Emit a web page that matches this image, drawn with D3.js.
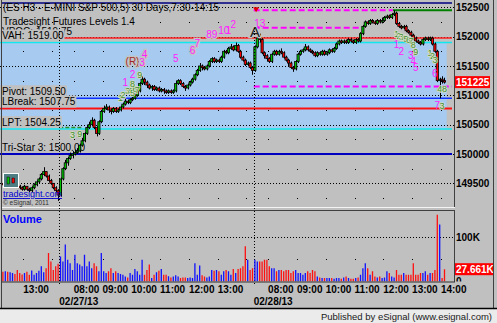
<!DOCTYPE html>
<html>
<head>
<meta charset="utf-8">
<script src="https://cdn.jsdelivr.net/npm/d3@7"></script>
<style>
  body { margin: 0; background: #c0c0c0; }
  svg { display: block; }
  text { font-family: Arial, "Liberation Sans", sans-serif; }
</style>
</head>
<body>
<svg id="chart" width="497" height="323"></svg>
<script>
// sessions on screen (5 minute bars)
var sessionDates = ["02/26/13", "02/27/13", "02/28/13"];
var sessionStarts = ["12:15", "07:30", "07:30"];
var sessionBars = [24, 81, 80];

var opens = [
1495.0,1494.75,1495.25,1495.0,1495.75,1496.0,1495.5,1494.5,1494.25,1494.0,1494.5,1494.0,1493.75,1494.25,1494.75,1495.25,1495.75,1496.5,1497.0,1496.25,1495.5,1495.0,1494.25,1493.75,
1493.0,1495.75,1497.5,1498.5,1499.25,1499.75,1500.0,1500.25,1500.5,1501.5,
1502.25,1503.5,1504.5,1505.0,1505.75,1504.5,1503.5,1505.5,1507.25,1507.75,
1508.0,1507.5,1507.25,1507.75,1507.25,1507.5,1508.0,1508.5,1509.0,1508.75,
1509.25,1509.5,1510.0,1510.75,1512.0,1512.75,1512.25,1511.75,1511.25,1511.5,
1511.0,1511.25,1510.75,1511.0,1510.75,1510.5,1510.75,1510.5,1510.75,1512.0,
1512.5,1512.0,1511.5,1511.25,1511.75,1512.25,1512.75,1513.5,1514.25,1515.0,
1514.75,1514.5,1515.0,1515.75,1516.25,1515.75,1516.0,1515.75,1516.5,1517.5,
1517.25,1518.0,1518.25,1517.75,1518.5,1517.5,1516.5,1516.0,1515.25,1515.5,
1514.75,
1514.25,1518.25,1519.75,1519.5,1517.25,1516.75,1516.25,1515.75,1517.0,1517.5,
1517.0,1517.5,1517.25,1516.5,1516.0,1515.5,1514.75,1514.5,1515.75,1517.0,
1517.5,1517.75,1518.25,1517.75,1517.5,1517.25,1516.75,1517.25,1517.0,1517.5,
1517.0,1517.25,1517.75,1517.5,1518.0,1518.75,1519.25,1519.0,1519.25,1519.0,
1519.5,1519.25,1519.0,1519.5,1519.25,1520.5,1521.75,1522.5,1522.25,1522.75,
1522.5,1522.25,1522.75,1522.5,1522.75,1523.25,1523.5,1523.25,1523.75,1524.0,
1522.25,1521.75,1521.5,1521.75,1521.0,1520.75,1520.25,1519.75,1519.25,1519.0,
1518.75,1519.5,1519.75,1519.5,1519.75,1518.75,1517.5,1512.5,1512.75,1512.5];

var highs = [
1495.25,1495.5,1495.5,1496.0,1496.5,1496.0,1495.5,1494.75,1494.5,1494.75,1494.5,1494.25,1494.5,1495.0,1495.5,1496.0,1496.75,1497.75,1497.0,1496.5,1495.75,1495.0,1494.5,1494.0,
1496.0,1497.75,1499.0,1499.5,1500.25,1500.5,1500.75,1501.0,1501.75,1502.75,
1503.75,1505.0,1505.5,1506.25,1506.0,1504.75,1505.75,1507.5,1508.25,1508.5,
1508.25,1507.75,1508.0,1508.0,1507.75,1508.25,1508.75,1509.5,1509.25,1509.5,
1509.75,1510.25,1511.0,1512.25,1513.25,1513.0,1512.5,1512.0,1511.75,1511.75,
1511.5,1511.5,1511.25,1511.25,1511.0,1511.0,1511.0,1511.0,1512.5,1512.75,
1512.75,1512.25,1511.75,1512.0,1512.5,1513.0,1513.75,1514.5,1515.5,1515.25,
1515.0,1515.25,1516.0,1516.5,1516.5,1516.25,1516.25,1516.75,1517.75,1517.75,
1518.25,1518.75,1518.5,1519.0,1518.75,1517.75,1516.75,1516.25,1515.75,1515.75,
1515.0,
1518.5,1520.0,1520.5,1519.75,1517.5,1517.0,1516.5,1517.25,1517.75,1517.75,
1517.75,1518.0,1517.5,1516.75,1516.25,1515.75,1515.0,1516.0,1517.25,1517.75,
1518.0,1518.75,1518.5,1518.0,1517.75,1517.5,1517.5,1517.5,1517.75,1517.75,
1517.5,1518.0,1518.0,1518.25,1519.0,1519.5,1519.5,1519.5,1519.5,1519.75,
1519.75,1519.5,1519.75,1519.75,1520.75,1522.0,1522.75,1522.75,1523.0,1523.0,
1522.75,1523.0,1523.0,1523.25,1523.5,1523.75,1523.75,1524.0,1524.5,1524.25,
1522.5,1522.0,1522.0,1522.0,1521.25,1521.0,1520.5,1520.0,1519.5,1519.25,
1519.75,1520.0,1520.0,1520.0,1520.0,1519.0,1517.75,1513.0,1513.25,1513.0];

var lows = [
1494.5,1494.5,1494.75,1494.75,1495.5,1495.25,1494.25,1494.0,1493.75,1493.75,1493.75,1493.5,1493.5,1494.0,1494.5,1495.0,1495.5,1496.25,1496.0,1495.25,1494.75,1494.0,1493.5,1492.0,
1492.75,1495.5,1497.25,1498.0,1499.0,1499.25,1499.75,1500.0,1500.25,1501.25,
1502.0,1503.25,1504.25,1504.75,1504.25,1503.0,1503.25,1505.25,1507.0,1507.5,
1507.0,1506.75,1507.0,1507.0,1507.0,1507.25,1507.75,1508.25,1508.5,1508.5,
1509.0,1509.25,1509.75,1510.5,1511.75,1511.75,1511.25,1511.0,1510.75,1510.75,
1510.75,1510.5,1510.5,1510.25,1510.25,1510.25,1510.25,1510.25,1510.5,1511.75,
1511.75,1511.25,1510.75,1511.0,1511.5,1512.0,1512.5,1513.25,1514.0,1514.25,
1514.25,1514.25,1514.75,1515.5,1515.5,1515.5,1515.5,1515.5,1516.25,1517.0,
1517.0,1517.75,1517.5,1517.5,1517.25,1516.25,1515.75,1515.0,1515.0,1514.5,
1513.5,
1514.0,1518.0,1519.0,1517.0,1516.25,1515.75,1515.5,1515.5,1516.75,1516.75,
1516.75,1517.0,1516.25,1515.75,1515.0,1514.5,1514.0,1514.25,1515.5,1516.75,
1517.25,1517.5,1517.5,1517.25,1517.0,1516.5,1516.5,1516.75,1516.75,1516.75,
1516.75,1517.0,1517.25,1517.25,1517.75,1518.5,1518.75,1518.75,1518.75,1518.75,
1519.0,1518.75,1518.75,1519.0,1519.0,1520.25,1521.5,1522.0,1522.0,1522.25,
1522.0,1522.0,1522.25,1522.25,1522.5,1523.0,1523.0,1523.0,1523.5,1522.0,
1521.5,1521.25,1521.25,1520.75,1520.5,1520.0,1519.5,1519.0,1518.75,1518.5,
1518.5,1519.25,1519.25,1519.25,1518.5,1517.25,1512.25,1509.5,1512.0,1512.0];

var closes = [
1494.75,1495.25,1495.0,1495.75,1496.0,1495.5,1494.5,1494.25,1494.0,1494.5,1494.0,1493.75,1494.25,1494.75,1495.25,1495.75,1496.5,1497.0,1496.25,1495.5,1495.0,1494.25,1493.75,1493.0,
1495.75,1497.5,1498.5,1499.25,1499.75,1500.0,1500.25,1500.5,1501.5,1502.25,
1503.5,1504.5,1505.0,1505.75,1504.5,1503.5,1505.5,1507.25,1507.75,1508.0,
1507.5,1507.25,1507.75,1507.25,1507.5,1508.0,1508.5,1509.0,1508.75,1509.25,
1509.5,1510.0,1510.75,1512.0,1512.75,1512.25,1511.75,1511.25,1511.5,1511.0,
1511.25,1510.75,1511.0,1510.75,1510.5,1510.75,1510.5,1510.75,1512.0,1512.5,
1512.0,1511.5,1511.25,1511.75,1512.25,1512.75,1513.5,1514.25,1515.0,1514.75,
1514.5,1515.0,1515.75,1516.25,1515.75,1516.0,1515.75,1516.5,1517.5,1517.25,
1518.0,1518.25,1517.75,1518.5,1517.5,1516.5,1516.0,1515.25,1515.5,1514.75,
1514.25,
1518.25,1519.75,1519.5,1517.25,1516.75,1516.25,1515.75,1517.0,1517.5,1517.0,
1517.5,1517.25,1516.5,1516.0,1515.5,1514.75,1514.5,1515.75,1517.0,1517.5,
1517.75,1518.25,1517.75,1517.5,1517.25,1516.75,1517.25,1517.0,1517.5,1517.0,
1517.25,1517.75,1517.5,1518.0,1518.75,1519.25,1519.0,1519.25,1519.0,1519.5,
1519.25,1519.0,1519.5,1519.25,1520.5,1521.75,1522.5,1522.25,1522.75,1522.5,
1522.25,1522.75,1522.5,1522.75,1523.25,1523.5,1523.25,1523.75,1524.0,1522.25,
1521.75,1521.5,1521.75,1521.0,1520.75,1520.25,1519.75,1519.25,1519.0,1518.75,
1519.5,1519.75,1519.5,1519.75,1518.75,1517.5,1512.5,1512.75,1512.5,1512.25];

// volume in thousands of contracts
var volumes = [
22,23,22,21,19,17,26,19,16,19,22,15,25,15,19,24,34,21,30,64,45,26,34,40,
56,45,83,49,41,26,60,41,38,34, 60,34,45,30,41,34,23,64,23,19,
23,30,19,23,19,17,15,11,9,19, 15,28,23,15,49,15,26,38,8,15,
21,24,28,15,15,12,9,11,14,11, 8,9,9,8,9,8,41,15,36,14,
11,9,11,26,24,26,23,15,23,26, 23,15,28,19,28,30,34,79,49,26, 30,
49,45,45,45,49,49,34,30,30,23, 26,26,23,26,26,19,23,26,19,19,
15,19,23,19,26,23,11,9,8,8, 8,8,8,6,8,8,6,9,11,8,
6,6,8,9,15,30,41,30,15,23, 11,9,11,8,9,23,19,11,9,26,
15,15,19,15,15,15,41,15,15,19, 19,23,15,19,19,26,150,128,8,27.661];

var priceTicks = [1495, 1500, 1505, 1510, 1515, 1520, 1525];
var volumeTicks = [0, 100];
var lastPrice = 1512.25;
var lastVolume = 27.661;

var tickDays = [0, 1, 1, 1, 1, 1, 1, 2, 2, 2, 2, 2, 2, 2];
var tickTimes = ["13:00", "08:00", "09:00", "10:00", "11:00", "12:00", "13:00",
                 "08:00", "09:00", "10:00", "11:00", "12:00", "13:00", "14:00"];

var levelNames = ["VPOC: 1519.75", "VAH: 1519.00", "Pivot: 1509.50", "LBreak: 1507.75", "LPT: 1504.25", "Tri-Star 3: 1500.00"];
var levelPrices = [1519.75, 1519.00, 1509.50, 1507.75, 1504.25, 1500.00];

// partial lines: price, first bar, last bar, kind
var marks = [
  [1525.75, 0, 185, "top"],
  [1524.50, 163, 185, "high"],
  [1524.50, 105, 163, "target"],
  [1521.50, 105, 150, "target"],
  [1511.50, 105, 185, "target"],
  [1504.50, 24, 34, "lpt"]
];

// study numbers: text, bar, price, kind
var notes = [
  ["3", 29, 1503.3, "g"], ["9", 32, 1503.4, "g"],
  ["1", 49, 1509.5, "g"], ["2", 50, 1510.05, "g"], ["3", 52, 1510.7, "g"], ["4", 53, 1510.7, "g"],
  ["5", 54, 1510.4, "g"], ["6", 55, 1511.1, "g"], ["7", 56, 1510.9, "g"], ["8", 54, 1511.9, "g"],
  ["9", 57, 1513.45, "g"],
  ["1", 164, 1520.4, "g"], ["2", 165, 1520.2, "g"], ["3", 166, 1520.0, "g"], ["4", 167, 1519.8, "g"],
  ["5", 168, 1519.6, "g"], ["6", 169, 1519.4, "g"], ["7", 170, 1519.2, "g"], ["8", 171, 1518.55, "g"],
  ["9", 172, 1517.4, "g"], ["1", 178, 1517.2, "g"], ["2", 179, 1516.7, "g"], ["3", 180, 1516.0, "g"],
  ["4", 182, 1511.1, "g"], ["8", 184, 1511.1, "g"], ["3", 183, 1508.2, "g"],
  ["1", 51, 1512.25, "m"], ["2", 54, 1513.5, "m"], ["(R)", 54, 1515.7, "r"], ["3", 58, 1515.6, "M"],
  ["4", 59, 1516.9, "M"], ["5", 72, 1516.2, "m"], ["6", 79, 1517.7, "M"], ["7", 81, 1518.75, "M"],
  ["89", 87, 1520.3, "M"], ["10", 92, 1521.1, "m"], ["1", 94, 1521.1, "m"], ["2", 96, 1522.0, "m"],
  ["13", 107, 1522.3, "m"], ["A", 105, 1520.8, "a"],
  ["1", 164, 1518.6, "m"], ["2", 166, 1517.55, "m"], ["3", 170, 1516.7, "m"], ["4", 171, 1515.7, "m"],
  ["5", 172, 1514.8, "m"], ["6", 180, 1513.8, "m"], ["7", 181, 1508.2, "m"]
];

// bar clock times
var two = d3.format("02d");
var bars = [];
sessionBars.forEach(function (n, s) {
  var hm = sessionStarts[s].split(":").map(Number);
  for (var k = 0; k < n; k++) {
    var t = hm[0] * 60 + hm[1] + 5 * k;
    bars.push({ day: s, first: k == 0, time: two(Math.floor(t / 60)) + ":" + two(t % 60) });
  }
});

var N = bars.length;
var svg = d3.select("#chart");
var x = d3.scaleBand().domain(d3.range(N)).range([1.7, 1.7 + N * 2.4]);
var y = d3.scaleLinear().domain([1500, 1519]).range([154, 42.5]);
var yv = d3.scaleLinear().domain([0, 100]).range([281.5, 237]);
var bw = x.bandwidth();
function xEdge(i) { return i >= N ? x.range()[1] + 6 : x(i); }
var fillEnd = x.range()[1] + 1;
var lineEnd = 452;
var FS = 10;

var defs = svg.append("defs");
defs.append("clipPath").attr("id", "pclip").append("rect").attr("x", 0).attr("y", 0).attr("width", 454).attr("height", 207);
defs.append("clipPath").attr("id", "vclip").append("rect").attr("x", 2).attr("y", 210).attr("width", 492).attr("height", 71.5);

svg.append("rect").attr("width", 497).attr("height", 323).attr("fill", "#c0c0c0");

var pg = svg.append("g").attr("clip-path", "url(#pclip)");

// value area
pg.append("rect")
  .attr("x", 0).attr("y", y(1519)).attr("width", fillEnd).attr("height", y(1504.25) - y(1519))
  .attr("fill", "#a6caf0");

// grid
pg.selectAll("line.grid").data(priceTicks).join("line")
  .attr("x1", 0).attr("x2", 454)
  .attr("y1", function (d) { return Math.round(y(d)) + 0.5; })
  .attr("y2", function (d) { return Math.round(y(d)) + 0.5; })
  .attr("stroke", "#000").attr("stroke-dasharray", "1,2");

var hourIdx = d3.range(N).filter(function (i) { return bars[i].time.slice(3) == "00"; });
var dotPts = [];
hourIdx.forEach(function (i) {
  priceTicks.forEach(function (p) { dotPts.push([x(i), p + 2.5]); dotPts.push([x(i), p - 2.5]); });
});
pg.selectAll("rect.dot").data(dotPts).join("rect")
  .attr("x", function (d) { return Math.round(d[0]); })
  .attr("y", function (d) { return Math.round(y(d[1])); })
  .attr("width", 1).attr("height", 1).attr("fill", "#000");

// day separators
var firsts = d3.range(N).filter(function (i) { return bars[i].first && bars[i].day > 0; });
svg.selectAll("line.sep").data(firsts).join("line")
  .attr("x1", function (i) { return Math.round(x(i)) + 0.5; })
  .attr("x2", function (i) { return Math.round(x(i)) + 0.5; })
  .attr("y1", 28).attr("y2", 284)
  .attr("stroke", "#000").attr("stroke-dasharray", "1,2");

// level lines
var levelColors = ["#ff2020", "#10e8f0", "#1030ff", "#ff1010", "#10e8f0", "#0000c0"];
var levelWidths = [1.5, 1.5, 1.5, 2.2, 1.5, 1.8];
pg.selectAll("line.level").data(levelPrices).join("line")
  .attr("x1", 0).attr("x2", lineEnd)
  .attr("y1", function (d) { return y(d); }).attr("y2", function (d) { return y(d); })
  .attr("stroke", function (d, i) { return levelColors[i]; })
  .attr("stroke-width", function (d, i) { return levelWidths[i]; });

var markStyle = {
  top: ["#000080", 1.5, null],
  high: ["#008000", 2, null],
  target: ["#ff00ff", 2, "6,3"],
  lpt: ["#2f8f2f", 1.5, "4,2"]
};
pg.selectAll("line.mark").data(marks).join("line")
  .attr("x1", function (d) { return xEdge(d[1]); })
  .attr("x2", function (d) { return d[2] >= N ? lineEnd : x(d[2]); })
  .attr("y1", function (d) { return y(d[0]); }).attr("y2", function (d) { return y(d[0]); })
  .attr("stroke", function (d) { return markStyle[d[3]][0]; })
  .attr("stroke-width", function (d) { return markStyle[d[3]][1]; })
  .attr("stroke-dasharray", function (d) { return markStyle[d[3]][2]; });

pg.append("path")
  .attr("d", "M-3,-3L3,-3L0,2Z")
  .attr("transform", "translate(" + (x(106)) + "," + y(1524.5) + ")")
  .attr("fill", "#e00000");

// level labels
levelNames.forEach(function (name, i) {
  var ty = y(levelPrices[i]) - 7;
  var box = pg.append("rect").attr("fill", "#c0c0c0");
  var t = pg.append("text")
    .attr("x", 2).attr("y", ty).attr("dy", "0.35em")
    .attr("font-size", FS).attr("fill", "#000").text(name);
  var len = t.node().getComputedTextLength();
  box.attr("x", 0).attr("y", ty - 6).attr("width", len + 3).attr("height", 12);
});

// candles
var cg = pg.append("g");
cg.selectAll("line.wick").data(d3.range(N)).join("line")
  .attr("x1", function (i) { return Math.round(x(i) + bw / 2) + 0.5; })
  .attr("x2", function (i) { return Math.round(x(i) + bw / 2) + 0.5; })
  .attr("y1", function (i) { return y(highs[i]); })
  .attr("y2", function (i) { return y(lows[i]); })
  .attr("stroke", "#000").attr("stroke-width", 1);
cg.selectAll("rect.body").data(d3.range(N)).join("rect")
  .attr("x", function (i) { return x(i) + 0.1; })
  .attr("width", bw - 0.2)
  .attr("y", function (i) { return y(Math.max(opens[i], closes[i])); })
  .attr("height", function (i) { return Math.max(1, Math.abs(y(opens[i]) - y(closes[i]))); })
  .attr("fill", function (i) { return closes[i] >= opens[i] ? "#00c000" : "#ff0000"; })
  .attr("stroke", "#000").attr("stroke-width", 0.8);

// study numbers
var noteColor = { g: "#3f8f2f", m: "#ff20ff", M: "#ff20ff", r: "#a02828", a: "#202020" };
pg.selectAll("text.note").data(notes).join("text")
  .attr("x", function (d) { return x(d[1]) + bw / 2; })
  .attr("y", function (d) { return y(d[2]); })
  .attr("dy", "0.35em")
  .attr("text-anchor", "middle")
  .attr("font-size", function (d) { return d[3] == "a" ? 15 : d[3] == "g" ? 9 : 10; })
  .attr("fill", function (d) { return noteColor[d[3]]; })
  .attr("stroke", function (d) { return d[3] == "g" ? "#d8dcc8" : d[3] == "m" ? "none" : "#c4c4c4"; })
  .attr("stroke-width", function (d) { return d[3] == "g" ? 1.6 : 2.5; })
  .attr("paint-order", "stroke")
  .text(function (d) { return d[0]; });

// titles
pg.append("text").attr("x", 3).attr("y", 11).attr("font-size", FS).attr("fill", "#000")
  .text("(ES H3 - E-MINI S&P 500,5) 30 Days,7:30-14:15");
pg.append("text").attr("x", 3).attr("y", 24.5).attr("font-size", FS).attr("fill", "#000")
  .text("Tradesight Futures Levels 1.4");

// logo
pg.append("rect").attr("x", 3.5).attr("y", 173.5).attr("width", 15).attr("height", 14)
  .attr("fill", "#4f7d84").attr("stroke", "#ffffff").attr("stroke-width", 1);
pg.append("rect").attr("x", 7).attr("y", 177).attr("width", 2.5).attr("height", 7).attr("fill", "#00c000").attr("stroke", "#000").attr("stroke-width", 0.5);
pg.append("rect").attr("x", 12).attr("y", 178).attr("width", 2.5).attr("height", 5).attr("fill", "#ff0000").attr("stroke", "#000").attr("stroke-width", 0.5);
pg.append("text").attr("x", 3).attr("y", 197).attr("font-size", 9).attr("fill", "#0000d0")
  .attr("text-decoration", "underline").text("tradesight.com");
pg.append("text").attr("x", 3).attr("y", 205).attr("font-size", 6.5).attr("fill", "#303030")
  .text("\u00a9 eSignal, 2011");

// panel borders
svg.append("line").attr("x1", 454.5).attr("x2", 454.5).attr("y1", 0).attr("y2", 207).attr("stroke", "#404040");
svg.append("line").attr("x1", 2).attr("x2", 455).attr("y1", 207.5).attr("y2", 207.5).attr("stroke", "#f4f4f4");
svg.append("line").attr("x1", 2).attr("x2", 455).attr("y1", 210.5).attr("y2", 210.5).attr("stroke", "#404040");

// price axis
var yAxis = d3.axisRight(y).tickValues(priceTicks).tickSize(0).tickPadding(0)
  .tickFormat(function (d) { return d * 100; });
svg.append("g").attr("transform", "translate(456,0)").call(yAxis)
  .call(function (g) { g.select(".domain").remove(); })
  .selectAll("text").attr("font-size", FS).attr("font-weight", "bold")
  .attr("font-family", "Arial, 'Liberation Sans', sans-serif").attr("fill", "#000");
var ly = y(lastPrice);
svg.append("rect").attr("x", 455).attr("y", ly - 6).attr("width", 35).attr("height", 12).attr("fill", "#ff0000");
svg.append("text").attr("x", 456).attr("y", ly).attr("dy", "0.35em").attr("font-size", FS)
  .attr("font-weight", "bold").attr("fill", "#fff").text(d3.format("d")(lastPrice * 100));

// volume panel
var vg = svg.append("g").attr("clip-path", "url(#vclip)");
vg.append("line").attr("x1", 2).attr("x2", 454).attr("y1", Math.round(yv(100)) + 0.5).attr("y2", Math.round(yv(100)) + 0.5)
  .attr("stroke", "#000").attr("stroke-dasharray", "1,2");
vg.selectAll("rect.vdot").data(hourIdx).join("rect")
  .attr("x", function (i) { return Math.round(x(i)); }).attr("y", Math.round(yv(50)))
  .attr("width", 1).attr("height", 1).attr("fill", "#000");
vg.selectAll("line.vol").data(d3.range(N)).join("line")
  .attr("x1", function (i) { return x(i) + bw / 2; })
  .attr("x2", function (i) { return x(i) + bw / 2; })
  .attr("y1", yv(0))
  .attr("y2", function (i) { return yv(volumes[i]); })
  .attr("stroke", function (i) { return closes[i] >= opens[i] ? "#1010ff" : "#ff1010"; })
  .attr("stroke-width", 1.3);
vg.append("text").attr("x", 3).attr("y", 223).attr("font-size", 11).attr("font-weight", "bold")
  .attr("fill", "#0000ff").text("Volume");
var vAxis = d3.axisRight(yv).tickValues(volumeTicks).tickSize(0).tickPadding(0)
  .tickFormat(function (d) { return d == 0 ? "0" : d + "K"; });
vg.append("g").attr("transform", "translate(456,0)").call(vAxis)
  .call(function (g) { g.select(".domain").remove(); })
  .selectAll("text").attr("font-size", FS).attr("font-weight", "bold")
  .attr("font-family", "Arial, 'Liberation Sans', sans-serif").attr("fill", "#000");
var lv = yv(lastVolume);
vg.append("rect").attr("x", 455).attr("y", lv - 6).attr("width", 38).attr("height", 12).attr("fill", "#ff0000");
vg.append("text").attr("x", 456).attr("y", lv).attr("dy", "0.35em").attr("font-size", FS)
  .attr("font-weight", "bold").attr("fill", "#fff").text(lastVolume + "K");
svg.append("line").attr("x1", 454.5).attr("x2", 454.5).attr("y1", 210).attr("y2", 282).attr("stroke", "#404040");
svg.append("line").attr("x1", 2).attr("x2", 455).attr("y1", 282).attr("y2", 282).attr("stroke", "#303030");

// time axis
var tickIdx = tickTimes.map(function (t, k) {
  return d3.range(N).find(function (i) { return bars[i].day == tickDays[k] && bars[i].time == t; });
});
svg.selectAll("text.time").data(tickIdx).join("text")
  .attr("x", function (i) { return x(i); }).attr("y", 293)
  .attr("font-size", FS).attr("font-weight", "bold").attr("fill", "#000")
  .text(function (i) { return bars[i].time; });
svg.selectAll("text.date").data(firsts).join("text")
  .attr("x", function (i) { return x(i); }).attr("y", 305)
  .attr("font-size", FS).attr("font-weight", "bold").attr("fill", "#000")
  .text(function (i) { return sessionDates[bars[i].day]; });

// frame and footer
svg.append("line").attr("x1", 1.5).attr("x2", 1.5).attr("y1", 0).attr("y2", 308).attr("stroke", "#404040");
svg.append("line").attr("x1", 493.5).attr("x2", 493.5).attr("y1", 0).attr("y2", 308).attr("stroke", "#404040");
svg.append("rect").attr("x", 0).attr("y", 309).attr("width", 497).attr("height", 14).attr("fill", "#ebebeb");
svg.append("line").attr("x1", 0).attr("x2", 497).attr("y1", 308.5).attr("y2", 308.5).attr("stroke", "#000").attr("stroke-width", 1.5);
svg.append("text").attr("x", 492).attr("y", 319.5).attr("text-anchor", "end").attr("font-size", 9.5)
  .attr("fill", "#202020").text("Published by eSignal (www.esignal.com)");
</script>
</body>
</html>
